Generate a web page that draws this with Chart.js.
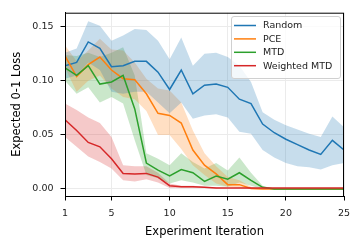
<!DOCTYPE html>
<html>
<head>
<meta charset="utf-8">
<script src="https://cdn.jsdelivr.net/npm/chart.js@4.4.0/dist/chart.umd.min.js"></script>
<style>
  html, body { margin: 0; padding: 0; background: #fff; }
  #wrap { width: 363px; height: 250px; }
</style>
</head>
<body>
<div id="wrap"><canvas id="lossChart" width="363" height="250"></canvas></div>
<script>
// Expected 0-1 loss per experiment iteration (mean line + shaded band)
const iterations = [1, 2, 3, 4, 5, 6, 7, 8, 9, 10, 11, 12, 13, 14, 15, 16, 17, 18, 19, 20, 21, 22, 23, 24, 25];
const xTicks = [1, 5, 10, 15, 20, 25];
const yTicks = [0, 0.05, 0.10, 0.15];
const seriesNames = ['Random', 'PCE', 'MTD', 'Weighted MTD'];

const randomMean  = [0.114, 0.117, 0.136, 0.130, 0.113, 0.114, 0.118, 0.118, 0.108, 0.092, 0.110, 0.088, 0.096, 0.097, 0.094, 0.083, 0.079, 0.060, 0.052, 0.046, 0.041, 0.036, 0.032, 0.045, 0.036];
const randomUpper = [0.126, 0.130, 0.155, 0.151, 0.137, 0.142, 0.148, 0.147, 0.137, 0.120, 0.140, 0.114, 0.125, 0.126, 0.122, 0.114, 0.099, 0.071, 0.064, 0.059, 0.055, 0.051, 0.048, 0.067, 0.057];
const randomLower = [0.102, 0.105, 0.117, 0.110, 0.090, 0.088, 0.090, 0.090, 0.080, 0.070, 0.080, 0.065, 0.068, 0.069, 0.066, 0.053, 0.051, 0.036, 0.029, 0.024, 0.021, 0.020, 0.018, 0.022, 0.024];

const pceMean  = [0.123, 0.104, 0.115, 0.122, 0.110, 0.102, 0.101, 0.088, 0.070, 0.068, 0.061, 0.036, 0.022, 0.014, 0.004, 0.004, 0.0005, 0, 0, 0, 0, 0, 0, 0, 0];
const pceUpper = [0.133, 0.118, 0.128, 0.139, 0.129, 0.128, 0.117, 0.102, 0.093, 0.091, 0.080, 0.054, 0.033, 0.021, 0.011, 0.008, 0.002, 0, 0, 0, 0, 0, 0, 0, 0];
const pceLower = [0.112, 0.090, 0.100, 0.105, 0.093, 0.085, 0.083, 0.072, 0.050, 0.050, 0.037, 0.022, 0.013, 0.005, 0.002, 0.001, 0, 0, 0, 0, 0, 0, 0, 0, 0];

const mtdMean  = [0.112, 0.105, 0.114, 0.097, 0.099, 0.105, 0.074, 0.024, 0.0175, 0.012, 0.018, 0.015, 0.007, 0.012, 0.009, 0.015, 0.008, 0.0015, 0, 0, 0, 0, 0, 0, 0];
const mtdUpper = [0.124, 0.123, 0.126, 0.122, 0.126, 0.131, 0.105, 0.033, 0.028, 0.022, 0.033, 0.025, 0.019, 0.024, 0.017, 0.029, 0.015, 0.003, 0, 0, 0, 0, 0, 0, 0];
const mtdLower = [0.100, 0.088, 0.094, 0.080, 0.085, 0.079, 0.045, 0.013, 0.010, 0.005, 0.008, 0.006, 0.003, 0.003, 0.002, 0.006, 0.003, 0, 0, 0, 0, 0, 0, 0, 0];

const wmtdMean  = [0.064, 0.054, 0.043, 0.039, 0.028, 0.0144, 0.0138, 0.0144, 0.011, 0.003, 0.002, 0.002, 0.0015, 0.001, 0.001, 0.001, 0.001, 0.001, 0.001, 0.001, 0.001, 0.001, 0.001, 0.001, 0.001];
const wmtdUpper = [0.079, 0.073, 0.066, 0.061, 0.048, 0.022, 0.021, 0.021, 0.015, 0.005, 0.003, 0.003, 0.002, 0.0015, 0.001, 0.001, 0.001, 0.001, 0.001, 0.001, 0.001, 0.001, 0.001, 0.001, 0.001];
const wmtdLower = [0.048, 0.039, 0.030, 0.025, 0.019, 0.008, 0.007, 0.009, 0.006, 0.001, 0.001, 0.001, 0.001, 0.0005, 0.001, 0.001, 0.001, 0.001, 0.001, 0.001, 0.001, 0.001, 0.001, 0.001, 0.001];

const colors = ['#1f77b4', '#ff7f0e', '#2ca02c', '#d62728'];
const bandColors = ['rgba(31,119,180,0.25)', 'rgba(255,127,14,0.25)', 'rgba(44,160,44,0.25)', 'rgba(214,39,40,0.25)'];

const means = [randomMean, pceMean, mtdMean, wmtdMean];
const uppers = [randomUpper, pceUpper, mtdUpper, wmtdUpper];
const lowers = [randomLower, pceLower, mtdLower, wmtdLower];

function pts(arr) {
  return arr.map((v, i) => ({ x: iterations[i], y: v }));
}

const datasets = [];
means.forEach((m, idx) => {
  datasets.push({
    label: seriesNames[idx] + ' lower',
    data: pts(lowers[idx]),
    borderWidth: 0,
    pointRadius: 0,
    fill: false,
    order: 20 + idx
  });
  datasets.push({
    label: seriesNames[idx] + ' upper',
    data: pts(uppers[idx]),
    borderWidth: 0,
    pointRadius: 0,
    backgroundColor: bandColors[idx],
    fill: '-1',
    order: 20 + idx
  });
});
means.forEach((m, idx) => {
  datasets.push({
    label: seriesNames[idx],
    data: pts(m),
    borderColor: colors[idx],
    borderWidth: 1.5,
    pointRadius: 0,
    fill: false,
    order: 10 - idx
  });
});

const font = 'DejaVu Sans';

const frameAndLegend = {
  id: 'frameAndLegend',
  afterDraw(chart) {
    const { ctx, chartArea } = chart;
    ctx.save();
    ctx.strokeStyle = '#000';
    ctx.lineWidth = 1;
    ctx.strokeRect(chartArea.left + 0.5, chartArea.top + 0.5, chartArea.right - chartArea.left - 1, chartArea.bottom - chartArea.top);

    // legend box, upper right inside the axes
    const bx = 231, by = 16, bw = 109, bh = 62, r = 2.5;
    ctx.beginPath();
    ctx.roundRect(bx + 0.5, by + 0.5, bw, bh, r);
    ctx.fillStyle = 'rgba(255,255,255,0.8)';
    ctx.fill();
    ctx.strokeStyle = '#d0d0d0';
    ctx.stroke();

    ctx.font = '9.5px "' + font + '"';
    ctx.textBaseline = 'middle';
    ctx.textAlign = 'left';
    seriesNames.forEach((name, i) => {
      const y = 25.5 + i * 13.4;
      ctx.strokeStyle = colors[i];
      ctx.lineWidth = 1.5;
      ctx.beginPath();
      ctx.moveTo(234, y);
      ctx.lineTo(256, y);
      ctx.stroke();
      ctx.fillStyle = '#222';
      ctx.fillText(name, 263, y + 0.5);
    });
    ctx.restore();
  }
};

new Chart(document.getElementById('lossChart').getContext('2d'), {
  type: 'line',
  data: { datasets },
  options: {
    responsive: false,
    animation: false,
    layout: { padding: { top: 12, right: 19, left: 0, bottom: 0 } },
    plugins: {
      legend: { display: false },
      tooltip: { enabled: false },
      filler: { drawTime: 'beforeDatasetsDraw', propagate: false }
    },
    scales: {
      x: {
        type: 'linear',
        min: 1,
        max: 25,
        afterBuildTicks: scale => { scale.ticks = xTicks.map(v => ({ value: v })); },
        afterFit: scale => { scale.height = 54; },
        ticks: {
          color: '#222',
          font: { family: font, size: 9.5 },
          padding: 7,
          maxRotation: 0,
          autoSkip: false
        },
        grid: { color: '#ebebeb', tickColor: '#000', tickLength: 4.5, lineWidth: 1 },
        border: { display: true, color: '#000', width: 1 },
        title: {
          display: true,
          text: 'Experiment Iteration',
          color: '#000',
          font: { family: font, size: 11.5 },
          padding: { top: 0, bottom: 11 }
        }
      },
      y: {
        type: 'linear',
        min: -0.0065,
        max: 0.163,
        afterBuildTicks: scale => { scale.ticks = yTicks.map(v => ({ value: v })); },
        afterFit: scale => { scale.width = 65; },
        ticks: {
          color: '#222',
          font: { family: font, size: 9.5 },
          padding: 7,
          callback: v => v.toFixed(2)
        },
        grid: { color: '#ebebeb', tickColor: '#000', tickLength: 4.5, lineWidth: 1 },
        border: { display: true, color: '#000', width: 1 },
        title: {
          display: true,
          text: 'Expected 0-1 Loss',
          color: '#000',
          font: { family: font, size: 11.5 },
          padding: { top: 10, bottom: 0 }
        }
      }
    }
  },
  plugins: [frameAndLegend]
});
</script>
</body>
</html>
